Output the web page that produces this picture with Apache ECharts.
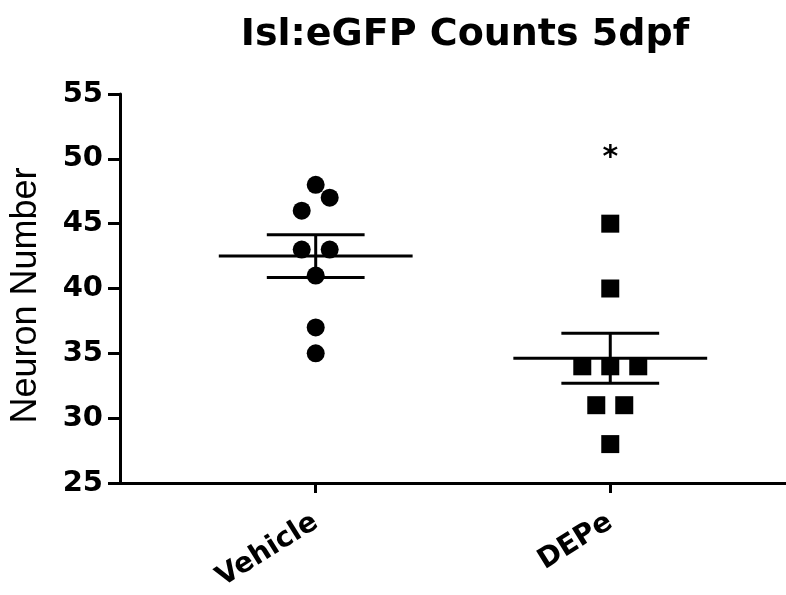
<!DOCTYPE html>
<html>
<head>
<meta charset="utf-8">
<script src="https://cdn.jsdelivr.net/npm/echarts@6/dist/echarts.min.js"></script>
<style>
html,body{margin:0;padding:0;background:#fff;}
#chart{width:786px;height:595px;}
</style>
</head>
<body>
<div id="chart"></div>
<script>
// ---- data ----
const categories = ['Vehicle', 'DEPe'];
const vehicleValues = [48, 47, 46, 43, 43, 41, 37, 35];
const depeValues = [45, 40, 34, 34, 34, 31, 31, 28];
// horizontal spread of dots (in jitter steps)
const vehicleJitter = [0, 1, -1, -1, 1, 0, 0, 0];
const depeJitter = [0, 0, -2, 0, 2, -1, 1, 0];
const yTicks = [25, 30, 35, 40, 45, 50, 55];
const significance = ['', '*'];
const significanceY = 50.6;

// ---- helpers ----
const JITTER_STEP = 0.0475;
function stats(arr) {
  const n = arr.length;
  const mean = arr.reduce((a, b) => a + b, 0) / n;
  const sd = Math.sqrt(arr.reduce((a, b) => a + (b - mean) * (b - mean), 0) / (n - 1));
  return { mean, sem: sd / Math.sqrt(n) };
}
const groups = [vehicleValues, depeValues];
const jitters = [vehicleJitter, depeJitter];
function points(gi) {
  return groups[gi].map((v, i) => [gi + 1 + jitters[gi][i] * JITTER_STEP, v]);
}
const errData = groups.map((g, gi) => {
  const s = stats(g);
  return [gi + 1, s.mean, s.mean - s.sem, s.mean + s.sem];
});
const sigData = significance.map((s, i) => ({ value: [i + 1, significanceY], label: s })).filter(d => d.label);

const black = '#000';
const chart = echarts.init(document.getElementById('chart'));
chart.setOption({
  animation: false,
  backgroundColor: '#fff',
  title: {
    text: 'Isl:eGFP Counts 5dpf',
    left: 460,
    top: 11,
    textAlign: 'center',
    textStyle: { fontFamily: 'DejaVu Sans', fontWeight: 'bold', fontSize: 38, color: black }
  },
  grid: { left: 119, right: 0, top: 94, bottom: 112, containLabel: false },
  xAxis: {
    type: 'value',
    min: 0.3356,
    max: 2.5966,
    axisLine: { show: true, lineStyle: { color: black, width: 3 } },
    axisTick: { show: true, customValues: [1, 2], length: 10, lineStyle: { color: black, width: 3 } },
    axisLabel: {
      show: true,
      customValues: [1, 2],
      rotate: 32,
      margin: 37,
      formatter: v => categories[Math.round(v) - 1] || '',
      fontFamily: 'DejaVu Sans', fontWeight: 'bold', fontSize: 28, color: black
    },
    splitLine: { show: false }
  },
  yAxis: {
    type: 'value',
    min: yTicks[0],
    max: yTicks[yTicks.length - 1],
    interval: yTicks[1] - yTicks[0],
    name: 'Neuron Number',
    nameLocation: 'middle',
    nameGap: 76,
    nameTextStyle: { fontFamily: 'Liberation Sans', fontSize: 36, color: black, padding: [0, 14, 0, 0] },
    axisLine: { show: true, lineStyle: { color: black, width: 3 } },
    axisTick: { show: true, length: 12, lineStyle: { color: black, width: 3 } },
    axisLabel: { margin: 17, fontFamily: 'DejaVu Sans', fontWeight: 'bold', fontSize: 29, color: black },
    splitLine: { show: false }
  },
  series: [
    {
      name: categories[0], type: 'scatter', symbol: 'circle', symbolSize: 18,
      itemStyle: { color: black, opacity: 1 }, data: points(0), z: 2
    },
    {
      name: categories[1], type: 'scatter', symbol: 'rect', symbolSize: 18,
      itemStyle: { color: black, opacity: 1 }, data: points(1), z: 2
    },
    {
      type: 'custom', z: 3,
      data: errData,
      renderItem: function (params, api) {
        const x = api.value(0), m = api.value(1), lo = api.value(2), hi = api.value(3);
        const pm = api.coord([x, m]);
        const plo = api.coord([x, lo]);
        const phi = api.coord([x, hi]);
        const unit = api.size([1, 0])[0];
        const mw = 0.329 * unit, cw = 0.166 * unit;
        const st = { stroke: black, lineWidth: 3 };
        return {
          type: 'group',
          children: [
            { type: 'line', shape: { x1: pm[0] - mw, y1: pm[1], x2: pm[0] + mw, y2: pm[1] }, style: st },
            { type: 'line', shape: { x1: pm[0], y1: plo[1], x2: pm[0], y2: phi[1] }, style: st },
            { type: 'line', shape: { x1: pm[0] - cw, y1: phi[1], x2: pm[0] + cw, y2: phi[1] }, style: st },
            { type: 'line', shape: { x1: pm[0] - cw, y1: plo[1], x2: pm[0] + cw, y2: plo[1] }, style: st }
          ]
        };
      }
    },
    {
      type: 'scatter', symbolSize: 1, itemStyle: { color: 'rgba(0,0,0,0)', opacity: 1 },
      data: sigData,
      label: {
        show: true, position: 'inside', offset: [0, 7],
        formatter: p => p.data.label,
        fontFamily: 'DejaVu Sans', fontWeight: 'bold', fontSize: 30, color: black
      }
    }
  ]
});
</script>
</body>
</html>
